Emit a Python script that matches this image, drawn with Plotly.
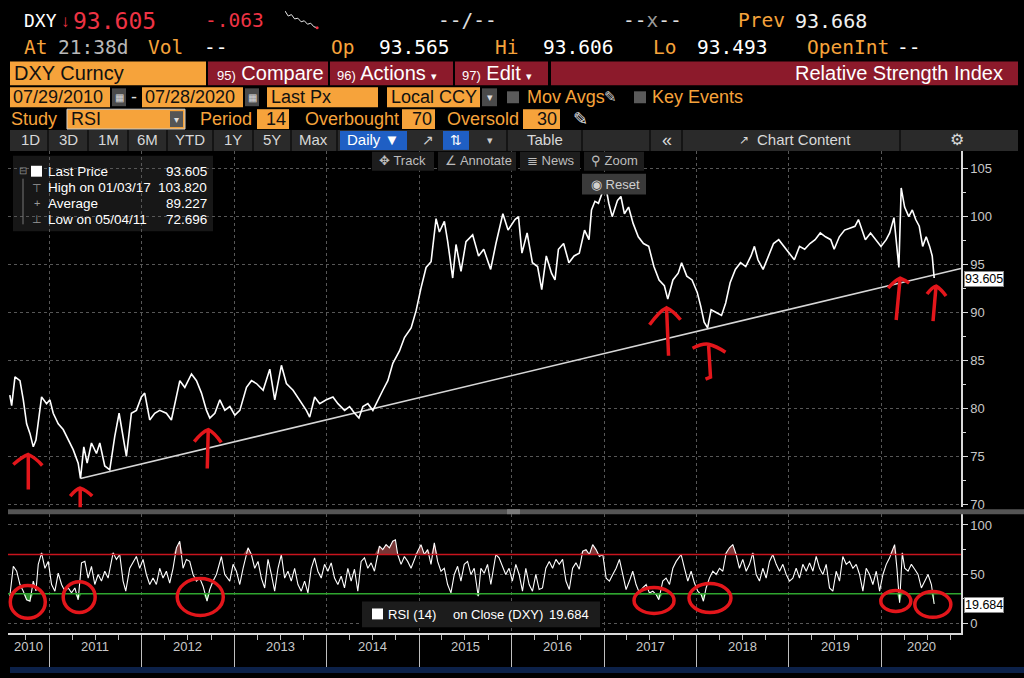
import pandas as pd
import plotly.graph_objects as go

W, H = 1024, 678
SANS = "Liberation Sans"
MONO = "DejaVu Sans Mono"
ORANGE = "#f6a33b"
CRIMSON = "#8c1a2b"
RED_TXT = "#ee3344"
INK = "#e3161b"
AXIS_TXT = "#c8c8c8"
GRID = "#575757"

# DXY last price (decimal years)
price_t = [
    2010.573, 2010.593, 2010.629, 2010.683, 2010.719, 2010.755, 2010.791, 2010.827, 2010.856, 2010.881,
    2010.917, 2010.971, 2011.007, 2011.043, 2011.097, 2011.151, 2011.205, 2011.259, 2011.313, 2011.338,
    2011.374, 2011.410, 2011.457, 2011.511, 2011.547, 2011.601, 2011.655, 2011.709, 2011.756, 2011.799,
    2011.835, 2011.889, 2011.943, 2011.997, 2012.033, 2012.087, 2012.141, 2012.195, 2012.267, 2012.321,
    2012.357, 2012.412, 2012.466, 2012.538, 2012.592, 2012.646, 2012.700, 2012.736, 2012.790, 2012.844,
    2012.898, 2012.952, 2013.006, 2013.060, 2013.132, 2013.186, 2013.240, 2013.312, 2013.384, 2013.438,
    2013.510, 2013.564, 2013.636, 2013.708, 2013.780, 2013.816, 2013.870, 2013.924, 2013.996, 2014.068,
    2014.122, 2014.194, 2014.248, 2014.302, 2014.349, 2014.392, 2014.446, 2014.500, 2014.554, 2014.608,
    2014.662, 2014.716, 2014.788, 2014.842, 2014.914, 2014.968, 2015.022, 2015.076, 2015.130, 2015.184,
    2015.220, 2015.274, 2015.310, 2015.364, 2015.400, 2015.454, 2015.508, 2015.580, 2015.644, 2015.700,
    2015.775, 2015.832, 2015.907, 2015.963, 2016.038, 2016.076, 2016.113, 2016.169, 2016.226, 2016.282,
    2016.327, 2016.376, 2016.432, 2016.470, 2016.507, 2016.563, 2016.620, 2016.676, 2016.732, 2016.789,
    2016.837, 2016.864, 2016.901, 2016.939, 2016.980, 2017.005, 2017.051, 2017.088, 2017.145, 2017.182,
    2017.220, 2017.265, 2017.314, 2017.370, 2017.426, 2017.483, 2017.539, 2017.595, 2017.652, 2017.689,
    2017.745, 2017.802, 2017.839, 2017.895, 2017.952, 2018.008, 2018.045, 2018.083, 2018.120, 2018.158,
    2018.214, 2018.271, 2018.316, 2018.364, 2018.421, 2018.477, 2018.533, 2018.590, 2018.627, 2018.665,
    2018.721, 2018.777, 2018.834, 2018.890, 2018.946, 2019.002, 2019.059, 2019.115, 2019.171, 2019.228,
    2019.284, 2019.340, 2019.396, 2019.453, 2019.490, 2019.546, 2019.603, 2019.659, 2019.715, 2019.753,
    2019.790, 2019.828, 2019.884, 2019.940, 2019.997, 2020.053, 2020.091, 2020.137, 2020.190, 2020.215,
    2020.252, 2020.297, 2020.335, 2020.372, 2020.410, 2020.447, 2020.485, 2020.522, 2020.550, 2020.571,
]
price_v = [
    81.4, 80.3, 83.3, 82.9, 80.9, 78.4, 77.4, 76.0, 76.7, 78.4,
    81.2, 80.5, 80.9, 79.5, 78.4, 77.8, 76.7, 75.7, 74.3, 72.7,
    76.0, 74.3, 76.4, 75.3, 76.4, 74.0, 73.6, 77.1, 79.5, 77.1,
    75.0, 79.5, 79.8, 81.2, 81.6, 78.8, 79.5, 79.8, 79.5, 78.8,
    80.5, 82.9, 82.2, 83.6, 82.9, 81.6, 79.8, 79.0, 79.5, 80.9,
    79.8, 80.2, 79.3, 79.8, 82.2, 82.9, 82.6, 81.9, 84.1, 80.9,
    84.5, 82.6, 81.9, 80.9, 79.8, 79.1, 81.2, 80.5, 80.9, 81.2,
    80.5, 79.8, 80.2, 79.5, 79.0, 80.2, 80.5, 79.8, 80.9, 81.9,
    82.9, 84.7, 86.0, 87.4, 88.4, 90.2, 92.6, 94.7, 95.3, 99.8,
    98.4, 99.5, 97.4, 93.6, 97.1, 94.3, 97.4, 98.1, 95.9, 96.6,
    94.5, 97.2, 100.3, 98.6, 99.7, 100.0, 96.2, 98.3, 95.2, 94.8,
    92.4, 95.9, 94.1, 93.4, 96.6, 97.2, 95.2, 95.9, 96.2, 98.6,
    97.6, 100.7, 101.6, 101.4, 102.5, 103.8, 101.4, 100.0, 101.7, 102.1,
    100.3, 101.0, 99.3, 97.9, 97.2, 96.9, 94.8, 93.4, 92.8, 91.4,
    93.4, 94.1, 95.2, 93.8, 93.4, 92.1, 90.7, 89.0, 88.4, 90.3,
    90.0, 89.7, 91.0, 93.1, 94.5, 95.2, 94.8, 95.9, 96.9, 95.5,
    94.5, 95.9, 97.2, 97.6, 96.9, 96.2, 95.5, 96.9, 96.6, 97.2,
    97.6, 98.3, 97.9, 97.6, 96.6, 97.9, 98.6, 98.8, 99.0, 99.7,
    98.6, 97.6, 98.3, 97.6, 96.9, 97.6, 98.3, 99.9, 94.7, 103.0,
    101.0, 100.0, 100.7, 99.7, 99.0, 96.9, 97.9, 96.9, 95.9, 93.605,
]

# RSI(14) on close
rsi_t = [
    2010.573, 2010.611, 2010.647, 2010.683, 2010.719, 2010.755, 2010.791, 2010.827, 2010.856, 2010.881,
    2010.917, 2010.953, 2010.989, 2011.025, 2011.061, 2011.097, 2011.133, 2011.169, 2011.205, 2011.241,
    2011.277, 2011.313, 2011.349, 2011.385, 2011.421, 2011.457, 2011.493, 2011.529, 2011.565, 2011.601,
    2011.637, 2011.691, 2011.727, 2011.763, 2011.799, 2011.828, 2011.871, 2011.907, 2011.943, 2011.979,
    2012.015, 2012.051, 2012.087, 2012.123, 2012.159, 2012.195, 2012.231, 2012.267, 2012.303, 2012.339,
    2012.375, 2012.411, 2012.447, 2012.483, 2012.519, 2012.555, 2012.591, 2012.627, 2012.663, 2012.706,
    2012.735, 2012.771, 2012.807, 2012.861, 2012.897, 2012.951, 2012.987, 2013.023, 2013.059, 2013.095,
    2013.149, 2013.185, 2013.221, 2013.257, 2013.293, 2013.329, 2013.365, 2013.401, 2013.437, 2013.473,
    2013.509, 2013.545, 2013.581, 2013.617, 2013.653, 2013.689, 2013.725, 2013.761, 2013.797, 2013.833,
    2013.869, 2013.905, 2013.941, 2013.977, 2014.013, 2014.049, 2014.085, 2014.121, 2014.157, 2014.193,
    2014.229, 2014.265, 2014.301, 2014.337, 2014.373, 2014.409, 2014.445, 2014.481, 2014.517, 2014.571,
    2014.607, 2014.643, 2014.679, 2014.715, 2014.744, 2014.769, 2014.805, 2014.841, 2014.877, 2014.913,
    2014.949, 2014.985, 2015.021, 2015.057, 2015.093, 2015.129, 2015.165, 2015.201, 2015.237, 2015.273,
    2015.309, 2015.345, 2015.381, 2015.417, 2015.453, 2015.489, 2015.525, 2015.561, 2015.597, 2015.640,
    2015.669, 2015.705, 2015.741, 2015.777, 2015.831, 2015.866, 2015.938, 2015.974, 2016.010, 2016.047,
    2016.083, 2016.119, 2016.155, 2016.191, 2016.227, 2016.263, 2016.299, 2016.335, 2016.371, 2016.408,
    2016.444, 2016.480, 2016.516, 2016.552, 2016.588, 2016.624, 2016.660, 2016.696, 2016.732, 2016.769,
    2016.805, 2016.841, 2016.877, 2016.913, 2016.949, 2016.986, 2017.022, 2017.058, 2017.094, 2017.130,
    2017.166, 2017.202, 2017.238, 2017.274, 2017.310, 2017.346, 2017.382, 2017.418, 2017.455, 2017.491,
    2017.527, 2017.563, 2017.592, 2017.635, 2017.671, 2017.708, 2017.744, 2017.780, 2017.834, 2017.870,
    2017.906, 2017.942, 2017.978, 2018.014, 2018.050, 2018.075, 2018.104, 2018.140, 2018.177, 2018.213,
    2018.249, 2018.285, 2018.321, 2018.357, 2018.393, 2018.429, 2018.465, 2018.501, 2018.538, 2018.574,
    2018.610, 2018.646, 2018.682, 2018.718, 2018.754, 2018.790, 2018.826, 2018.863, 2018.899, 2018.935,
    2018.971, 2019.007, 2019.043, 2019.079, 2019.115, 2019.151, 2019.188, 2019.224, 2019.260, 2019.296,
    2019.332, 2019.368, 2019.404, 2019.440, 2019.476, 2019.512, 2019.548, 2019.584, 2019.621, 2019.657,
    2019.693, 2019.729, 2019.765, 2019.801, 2019.837, 2019.873, 2019.909, 2019.946, 2019.982, 2020.018,
    2020.054, 2020.090, 2020.126, 2020.144, 2020.169, 2020.198, 2020.227, 2020.253, 2020.289, 2020.325,
    2020.361, 2020.397, 2020.433, 2020.469, 2020.505, 2020.541, 2020.571,
]
rsi_v = [
    27.6, 58, 53, 39.5, 32.7, 24, 22.5, 43, 33, 60,
    71.7, 56, 63, 39.5, 32.7, 51, 39.5, 32.7, 36, 31,
    36, 24, 61.5, 63, 46, 58, 39.5, 49.7, 43, 53,
    46, 71.7, 65, 70, 43, 32.7, 56, 61.5, 68, 56,
    65, 49.7, 39.5, 46, 39.5, 56, 46, 53, 41, 56,
    76.8, 83.5, 56, 65, 63, 49.7, 43, 46, 37.8, 22.5,
    34.4, 43, 49.7, 68, 49.7, 43, 60, 53, 39.5, 56,
    76.8, 70, 56, 63, 46, 36, 65, 49.7, 32.7, 56,
    70, 46, 53, 43, 56, 39.5, 32.7, 43, 31, 56,
    66.6, 53, 46, 60, 53, 61.5, 46, 39.5, 48, 36,
    56, 43, 55, 32.7, 63, 66.6, 56, 61.5, 53, 78.5,
    75, 80, 76.8, 83.5, 85, 70, 60, 68, 63, 56,
    65, 73.4, 80, 70, 75, 60, 81.9, 63, 53, 56,
    39.5, 31, 49.7, 58, 43, 60, 63, 49.7, 56, 27.6,
    56, 51, 60, 39.5, 70, 66.6, 49.7, 56, 43, 60,
    49.7, 32.7, 56, 39.5, 32.7, 49.7, 34.4, 36, 56, 63,
    56, 65, 60, 65, 43, 34.4, 56, 61.5, 55, 73.4,
    75, 70, 80, 75, 68, 70, 46, 43, 49.7, 56,
    65, 48, 34.4, 43, 53, 39.5, 31, 36, 39.5, 31,
    32.7, 29.3, 24, 43, 46, 39.5, 56, 63, 70, 56,
    43, 53, 41, 32.7, 29.3, 22.5, 36, 46, 53, 49.7,
    56, 53, 71.7, 76.8, 80, 70, 56, 65, 53, 60,
    71.7, 49.7, 43, 56, 46, 63, 70, 60, 53, 60,
    49.7, 43, 46, 56, 46, 60, 53, 61.5, 53, 68,
    56, 49.7, 60, 36, 32.7, 53, 43, 68, 60, 63,
    56, 60, 49.7, 32.7, 56, 49.7, 39.5, 53, 32.7, 49.7,
    60, 66.6, 76.8, 80, 56, 21, 71.7, 56, 53, 60,
    55, 49.7, 36, 43, 49.7, 39.5, 19.684,
]

# trend line drawn on the chart (from the 2011 low to the right edge)
trend_t = [2011.338, 2020.86]
trend_v = [72.7, 94.6]

# intraday sparkline in the header
spark_vals = [10, 6.5, 7.5, 4.5, 5, 2.5, 3.2, 0.8, 1.5, -1, -1.6]

years = list(range(2010, 2021))
price_ticks = [70, 75, 80, 85, 90, 95, 100, 105]
rsi_ticks = [0, 50, 100]
overbought, oversold = 70, 30
last_price = 93.605
last_rsi = 19.684

X0, X1 = pd.Timestamp("2010-07-22"), pd.Timestamp("2020-11-11")


def to_date(t):
    y = int(t)
    a = pd.Timestamp(y, 1, 1)
    return a + (pd.Timestamp(y + 1, 1, 1) - a) * (t - y)


price_dates = [to_date(t) for t in price_t]
rsi_dates = [to_date(t) for t in rsi_t]

shapes, annotations = [], []


def rect(x0, y0, x1, y1, fill, border=None, layer="above"):
    shapes.append(dict(type="rect", xref="paper", yref="paper",
                       x0=x0 / W, x1=x1 / W, y0=1 - y1 / H, y1=1 - y0 / H,
                       fillcolor=fill, layer=layer,
                       line=dict(color=border or fill, width=1 if border else 0)))


def vline(x, y0, y1, color, width=1):
    shapes.append(dict(type="line", xref="paper", yref="paper", x0=x / W, x1=x / W,
                       y0=1 - y1 / H, y1=1 - y0 / H, line=dict(color=color, width=width)))


def label(x, y, s, color="white", size=17, anchor="left", font=SANS):
    annotations.append(dict(text=s, x=x / W, y=1 - y / H, xref="paper", yref="paper",
                            xanchor=anchor, yanchor="middle", showarrow=False, borderpad=0,
                            font=dict(color=color, size=size, family=font)))


fig = go.Figure()

# RSI overbought / oversold fills
fig.add_trace(go.Scatter(x=rsi_dates, y=[oversold] * len(rsi_v), mode="lines",
                         line=dict(width=0), xaxis="x2", yaxis="y2", hoverinfo="skip"))
fig.add_trace(go.Scatter(x=rsi_dates, y=[min(v, oversold) for v in rsi_v], mode="lines",
                         line=dict(width=0), fill="tonexty", fillcolor="rgba(60,200,60,0.7)",
                         xaxis="x2", yaxis="y2", hoverinfo="skip"))
fig.add_trace(go.Scatter(x=rsi_dates, y=[overbought] * len(rsi_v), mode="lines",
                         line=dict(width=0), xaxis="x2", yaxis="y2", hoverinfo="skip"))
fig.add_trace(go.Scatter(x=rsi_dates, y=[max(v, overbought) for v in rsi_v], mode="lines",
                         line=dict(width=0), fill="tonexty", fillcolor="rgba(200,90,90,0.6)",
                         xaxis="x2", yaxis="y2", hoverinfo="skip"))

fig.add_trace(go.Scatter(x=[to_date(t) for t in trend_t], y=trend_v, mode="lines",
                         line=dict(color="#d6d6d6", width=1.6), xaxis="x", yaxis="y"))
fig.add_trace(go.Scatter(x=price_dates, y=price_v, mode="lines",
                         line=dict(color="white", width=1.6), xaxis="x", yaxis="y"))
fig.add_trace(go.Scatter(x=rsi_dates, y=rsi_v, mode="lines",
                         line=dict(color="white", width=1.1), xaxis="x2", yaxis="y2"))

# header sparkline
fig.add_trace(go.Scatter(y=spark_vals, mode="lines", line=dict(color="#e8e8e8", width=1),
                         xaxis="x3", yaxis="y3"))
fig.add_trace(go.Scatter(x=[len(spark_vals) - 1], y=[spark_vals[-1]], mode="markers",
                         marker=dict(color=RED_TXT, size=3), xaxis="x3", yaxis="y3"))

# overbought / oversold lines
for lvl, col in [(overbought, "#c8141e"), (oversold, "#2fa52f")]:
    shapes.append(dict(type="line", xref="x2 domain", yref="y2", x0=0, x1=1, y0=lvl, y1=lvl,
                       line=dict(color=col, width=1.5)))

# ---------- header rows ----------
label(23, 21, "DXY", "white", 18, font=MONO)
label(60, 22, "↓", RED_TXT, 17, font=SANS)
label(72, 21, "93.605", RED_TXT, 23, font=MONO)
label(204, 21, "-.063", RED_TXT, 19.5, font=MONO)
label(437, 21, "--/--", "#e0e0e0", 19.5, font=MONO)
label(622, 21, "--<span style='color:#9a9a9a'>x</span>--", "#e0e0e0", 19.5, font=MONO)
label(737, 21, "Prev", ORANGE, 19.5, font=MONO)
label(794, 21, "93.668", "#f0f0f0", 20, font=MONO)

for x, s, c in [(23, "At", ORANGE), (57, "21:38d", "#b8b8b8"), (147, "Vol", ORANGE), (203, "--", "white"),
                (330, "Op", ORANGE), (378, "93.565", "white"), (494, "Hi", ORANGE), (542, "93.606", "white"),
                (652, "Lo", ORANGE), (696, "93.493", "white"), (806, "OpenInt", ORANGE), (896, "--", "white")]:
    label(x, 48, s, c, 19.5, font=MONO)

rect(10, 62, 206, 86, ORANGE)
label(13, 74, "DXY Curncy", "#111111", 20)
rect(208, 62, 328, 86, CRIMSON)
label(216, 74, "<span style='font-size:13px'>95)</span> Compare", "white", 20)
rect(330, 62, 453, 86, CRIMSON)
label(336, 74, "<span style='font-size:13px'>96)</span> Actions <span style='font-size:11px'>▾</span>", "white", 20)
rect(455, 62, 548, 86, CRIMSON)
label(461, 74, "<span style='font-size:13px'>97)</span> Edit <span style='font-size:11px'>▾</span>", "white", 20)
rect(551, 62, 1018, 86, CRIMSON)
label(1004, 74, "Relative Strength Index", "white", 20, anchor="right")

rect(10, 88, 110, 108, ORANGE)
label(12, 98, "07/29/2010", "#111111", 18)
rect(112, 89, 126, 107, "#4a4a4a")
label(119, 98, "▦", "#dddddd", 10, anchor="center")
label(130, 98, "-", "#dddddd", 18)
rect(142, 88, 243, 108, ORANGE)
label(144, 98, "07/28/2020", "#111111", 18)
rect(245, 89, 259, 107, "#4a4a4a")
label(252, 98, "▦", "#dddddd", 10, anchor="center")
rect(267, 88, 378, 108, ORANGE)
label(270, 98, "Last Px", "#111111", 18)
rect(387, 88, 480, 108, ORANGE)
label(390, 98, "Local CCY", "#111111", 18)
rect(482, 89, 497, 107, "#4a4a4a")
label(489.5, 98, "▾", "#dddddd", 11, anchor="center")
rect(507, 92, 519, 104, "#5a5a5a")
label(526, 98, "Mov Avgs", ORANGE, 18)
label(603, 97, "✎", "#cccccc", 15)
rect(634, 92, 646, 104, "#5a5a5a")
label(651, 98, "Key Events", ORANGE, 18)

label(10, 120, "Study", ORANGE, 18)
rect(67, 110, 185, 130, ORANGE, border="#d0d0d0")
label(70, 120, "RSI", "#111111", 18)
rect(170, 112, 183, 128, "#555555")
label(176.5, 120, "▾", "#dddddd", 10, anchor="center")
label(199, 120, "Period", ORANGE, 18)
rect(257, 110, 289, 130, ORANGE)
label(287, 120, "14", "#111111", 18, anchor="right")
label(304, 120, "Overbought", ORANGE, 18)
rect(402, 110, 435, 130, ORANGE)
label(433, 120, "70", "#111111", 18, anchor="right")
label(446, 120, "Oversold", ORANGE, 18)
rect(523, 110, 560, 130, ORANGE)
label(558, 120, "30", "#111111", 18, anchor="right")
label(572, 120, "✎", "#e0e0e0", 18)

rect(10, 131, 1018, 152, "#2a2a2a")
for x in [48, 88, 128, 167, 213, 253, 291, 337, 507, 582, 650, 682, 900]:
    vline(x, 131, 152, "#141414", 2)
for s, x in [("1D", 30), ("3D", 68), ("1M", 108), ("6M", 147), ("YTD", 190),
             ("1Y", 233), ("5Y", 272), ("Max", 313)]:
    label(x, 141, s, "#d8d8d8", 15, anchor="center")
rect(340, 132, 407, 151, "#1f5fc4")
label(373, 141, "Daily ▼", "white", 15, anchor="center")
label(428, 141, "↗", "#cccccc", 14, anchor="center")
rect(443, 132, 469, 151, "#1f5fc4")
label(456, 141, "⇅", "white", 14, anchor="center")
label(490, 141, "▾", "#cccccc", 11, anchor="center")
label(545, 141, "Table", "#d8d8d8", 15, anchor="center")
label(667, 141, "«", "#d8d8d8", 18, anchor="center")
label(744, 141, "↗", "#d8d8d8", 12, anchor="center")
label(756, 141, "Chart Content", "#d8d8d8", 15)
label(957, 141, "⚙", "#d8d8d8", 16, anchor="center")

# in-chart toolbar
for x0, x1, s in [(372, 434, "✥ Track"), (438, 516, "∠ Annotate"), (520, 580, "≣ News"), (584, 644, "⚲ Zoom")]:
    rect(x0, 153, x1, 172, "#1d1d1d")
    label(x0 + 6, 162, s, "#bdbdbd", 13)
rect(582, 175, 646, 196, "#3a3a3a")
label(590, 185.5, "◉ Reset", "#d0d0d0", 13)

# price legend box
rect(13, 157, 213, 233, "#171717", layer="below")
rect(31, 167, 42, 178, "white")
vline(23, 180, 226, "#777777")
label(18, 172, "⊟", "#888888", 10)
for y, g in [(189, "⊤"), (205, "+"), (221, "⊥")]:
    label(37, y, g, "#999999", 11, anchor="center")
for y, s, v in [(173, "Last Price", "93.605"), (189, "High on 01/03/17", "103.820"),
                (205, "Average", "89.227"), (221, "Low on 05/04/11", "72.696")]:
    label(47, y, s, "white", 13.5)
    label(208, y, v, "white", 13.5, anchor="right")

# RSI legend box
rect(362, 606, 600, 632, "#1c1c1c")
rect(372, 613, 383, 624, "white")
label(387, 619, "RSI (14)", "white", 13)
label(452, 619, "on Close (DXY)", "white", 13)
label(590, 619, f"{last_rsi:.3f}", "white", 13, anchor="right")

# panel separator and bottom strip
rect(8, 513, 1024, 518, "#555555")
rect(507, 513, 520, 518, "#7a7a7a")
rect(10, 672, 1024, 678, "#0c2149")

# last value tags on the right axes
for val, yref in [(last_price, "y"), (last_rsi, "y2")]:
    annotations.append(dict(text=f"{val:.3f}", x=964 / W, xref="paper", y=val, yref=yref,
                            xanchor="left", yanchor="middle", yshift=-1, showarrow=False,
                            bgcolor="white", bordercolor="#888888", borderwidth=1, borderpad=0,
                            font=dict(color="black", size=12.5, family=SANS)))

# year labels centred on the visible part of each year
for y in years:
    a = max(pd.Timestamp(y, 1, 1), X0)
    b = min(pd.Timestamp(y + 1, 1, 1), X1)
    annotations.append(dict(text=str(y), x=a + (b - a) / 2, xref="x2", y=1 - 661 / H, yref="paper",
                            showarrow=False, font=dict(size=13, color=AXIS_TXT, family=SANS)))

# hand-drawn red arrows (tip position, pixel path)
arrows = [
    (2010.773, 75.2, "M 0,-35 L 0,0 M -15,-10 Q -6,-2 0,0 Q 7,-3 14,-11"),
    (2011.335, 71.7, "M 0,-30 L 0,0 M -10,-8 Q -4,-1 0,0 Q 6,-2 12,-8"),
    (2012.719, 77.8, "M -1,-39 L 0,0 M -14,-12 Q -6,-2 0,0 Q 6,-3 13,-13"),
    (2017.676, 90.5, "M 2,-48 L 0,0 M -17,-17 Q -7,-3 0,0 Q 7,-3 14,-12"),
    (2018.130, 86.7, "M -16,-4 Q -6,1 0,0 Q 8,-2 17,-8 M 0,0 L 2,-33 L -3,-35"),
    (2020.204, 93.6, "M -4,-42 L 0,0 M -12,-10 Q -5,-2 0,0 Q 5,-2 9,-5"),
    (2020.591, 92.76, "M -3,-35 L 0,0 M -9,-8 Q -4,-1 0,0 Q 5,-3 10,-10"),
]
for t, v, path in arrows:
    shapes.append(dict(type="path", xref="x", yref="y", xsizemode="pixel", ysizemode="pixel",
                       xanchor=to_date(t), yanchor=v, path=path,
                       line=dict(color=INK, width=3.5)))

# hand-drawn red circles on the RSI panel
circles = [
    (2010.578, 2010.957, 5.1, 38.4), (2011.151, 2011.497, 11.1, 42.4), (2012.384, 2012.881, 8.1, 45.5),
    (2017.324, 2017.757, 10.1, 36.4), (2017.919, 2018.373, 11.1, 40.4), (2019.995, 2020.319, 12.1, 33.3),
    (2020.362, 2020.751, 6.1, 32.3),
]
for t0, t1, r0, r1 in circles:
    shapes.append(dict(type="circle", xref="x2", yref="y2", x0=to_date(t0), x1=to_date(t1),
                       y0=r0, y1=r1, line=dict(color=INK, width=3.5)))

year_starts = [pd.Timestamp(y, 1, 1) for y in years[1:]]
xdom = [8 / W, 961 / W]

fig.update_layout(
    width=W, height=H, margin=dict(l=0, r=0, t=0, b=0),
    paper_bgcolor="black", plot_bgcolor="rgba(0,0,0,0)", showlegend=False,
    font=dict(family=SANS, color=AXIS_TXT, size=13),
    xaxis=dict(domain=xdom, anchor="y", type="date", range=[X0, X1], tickvals=year_starts,
               showticklabels=False, ticks="", showgrid=True, gridcolor=GRID, griddash="dot",
               zeroline=False, showline=False),
    xaxis2=dict(domain=xdom, anchor="y2", type="date", range=[X0, X1], matches="x",
                tickvals=year_starts, showticklabels=False, ticks="outside", ticklen=34,
                tickcolor="#bfbfbf", tickwidth=1, showgrid=True, gridcolor=GRID, griddash="dot",
                showline=True, linecolor="#d9d9d9", linewidth=2, zeroline=False,
                minor=dict(dtick="M3", tick0="2010-01-01", ticks="outside", ticklen=5,
                           tickcolor="#bfbfbf", showgrid=False)),
    yaxis=dict(domain=[1 - 511 / H, 1 - 152 / H], anchor="x", side="right", range=[69.7, 106.86],
               tickvals=price_ticks, ticks="outside", ticklen=5, tickcolor="#d9d9d9",
               showline=True, linecolor="#d9d9d9", linewidth=1.5, showgrid=True, gridcolor=GRID,
               griddash="dot", zeroline=False, tickfont=dict(size=13, color=AXIS_TXT),
               minor=dict(dtick=2.5, ticks="outside", ticklen=3, tickcolor="#d9d9d9", showgrid=False)),
    yaxis2=dict(domain=[1 - 638 / H, 1 - 518 / H], anchor="x2", side="right", range=[-10.1, 111],
                tickvals=rsi_ticks, ticks="outside", ticklen=5, tickcolor="#d9d9d9",
                showline=True, linecolor="#d9d9d9", linewidth=1.5, showgrid=True, gridcolor=GRID,
                griddash="dot", zeroline=False, tickfont=dict(size=13, color=AXIS_TXT),
                minor=dict(dtick=25, ticks="outside", ticklen=3, tickcolor="#d9d9d9", showgrid=False)),
    xaxis3=dict(domain=[285 / W, 322 / W], anchor="y3", visible=False),
    yaxis3=dict(domain=[1 - 32 / H, 1 - 10 / H], anchor="x3", visible=False),
    shapes=shapes, annotations=annotations,
)

fig.write_html("out.html", config={"displayModeBar": False},
               post_script="document.body.style.margin='0';")
